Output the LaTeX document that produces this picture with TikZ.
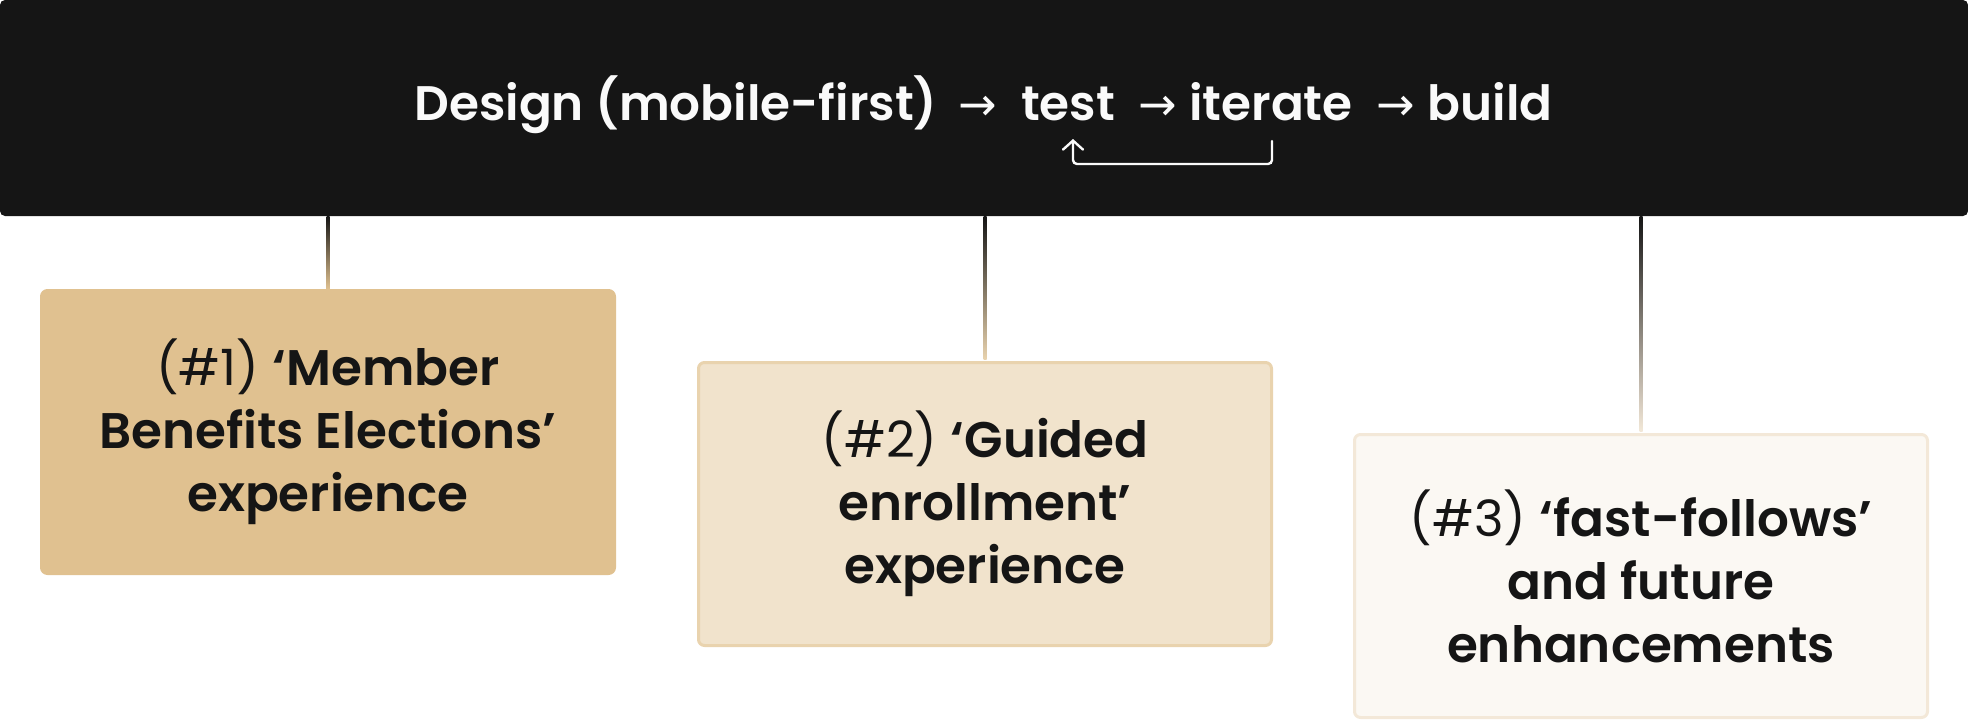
\documentclass[tikz,border=0pt]{standalone}
\usepackage{fontspec}
\setmainfont{Poppins}[BoldFont={Poppins SemiBold}]
\newfontfamily\arrowfont{DejaVu Sans}
\usetikzlibrary{positioning}
\usetikzlibrary{arrows.meta}
\usetikzlibrary{shapes}
\definecolor{headbg}{HTML}{151515}
\definecolor{headfg}{HTML}{FAFAFA}
\definecolor{fillone}{HTML}{E0C190}
\definecolor{filltwo}{HTML}{F1E3CC}
\definecolor{linetwo}{HTML}{E9D3AE}
\definecolor{fillthree}{HTML}{FBF8F3}
\definecolor{linethree}{HTML}{F3E8D8}
\tikzset{
        txt/.style={inner sep=0pt, font=\fontsize{50}{63}\selectfont},
        % Header bar and its text
        header/.style={rectangle, rounded corners=5pt, fill=headbg, minimum width=1968pt, minimum height=216pt, inner sep=0pt},
        head_word/.style={txt, anchor=base, text=headfg, font=\fontsize{48.5}{63}\selectfont\bfseries},
        head_arrow/.style={txt, anchor=base, text=headfg, font=\fontsize{46}{63}\selectfont\arrowfont},
        % Stage boxes
        stage/.style={txt, rectangle, rounded corners=6pt, align=center, text=headbg, line width=3pt, minimum width=573pt, minimum height=283pt},
        stage_one/.style={stage, fill=fillone, draw=fillone},
        stage_two/.style={stage, fill=filltwo, draw=linetwo},
        stage_three/.style={stage, fill=fillthree, draw=linethree}
}
\begin{document}
\begin{tikzpicture}[
            x=1pt, y=-1pt,
            feedback/.style={draw=headfg, line width=2.4pt, rounded corners=4pt, line cap=round, -{Straight Barb[length=9pt, width=20pt, line cap=round]}}
        ]
            \useasboundingbox (0,0) rectangle (1968,720);
            \node[header] (head) at (984,108) {};
            % Process line
            \node[head_word] (design) at (676,120) {Design (mobile-first)};
            \node[head_arrow] (arr1) at (978,120) {→};
            \node[head_word] (test) at (1068,120) {test};
            \node[head_arrow] (arr2) at (1158,120) {→};
            \node[head_word] (iterate) at (1271,120) {iterate};
            \node[head_arrow] (arr3) at (1396,120) {→};
            \node[head_word] (build) at (1490,120) {build};
            \draw[feedback] ([xshift=1pt, yshift=-21pt]iterate.base) -- ++(0,23) -| ([xshift=5pt, yshift=-19pt]test.base);
            % Stages
            \node[stage_one] (one) at (328,432) {(\#1) \textbf{‘Member}\\\textbf{Benefits Elections’}\\\textbf{experience}};
            \node[stage_two] (two) at (985,504) {(\#2) \textbf{‘Guided}\\\textbf{enrollment’}\\\textbf{experience}};
            \node[stage_three] (three) at (1641,576) {(\#3) \textbf{‘fast-follows’}\\\textbf{and future}\\\textbf{enhancements}};
            \shade[top color=headbg, bottom color=fillone] ([xshift=-1.5pt]head.south -| one.north) rectangle ([xshift=1.5pt]one.north);
            \shade[top color=headbg, bottom color=linetwo] ([xshift=-1.5pt]head.south -| two.north) rectangle ([xshift=1.5pt, yshift=1.5pt]two.north);
            \shade[top color=headbg, bottom color=linethree] ([xshift=-1.5pt]head.south -| three.north) rectangle ([xshift=1.5pt, yshift=1.5pt]three.north);
        \end{tikzpicture}
\end{document}
